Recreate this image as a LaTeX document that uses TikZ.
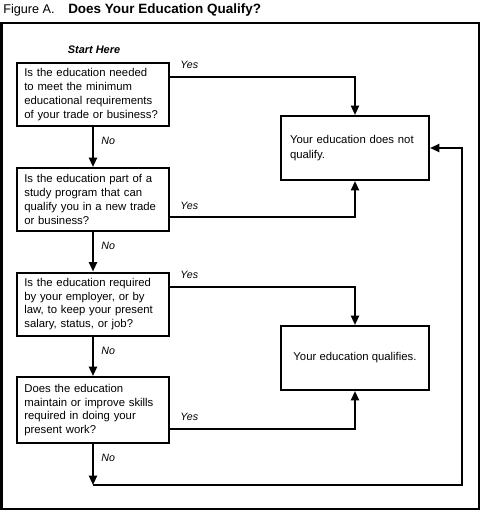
\documentclass[tikz,border=0pt]{standalone}
\usepackage{fontspec}
\setmainfont{Liberation Sans}
\usetikzlibrary{arrows.meta}
\hyphenpenalty=10000
\exhyphenpenalty=10000
\begin{document}
\begin{tikzpicture}[x=0.75pt,y=-0.75pt,
  every node/.style={inner sep=0pt},
  ln/.style={line width=1.5pt},
  arr/.style={ln, -{Triangle[width=6pt,length=7pt]}},
  qbox/.style={draw, ln, minimum width=114pt, minimum height=47.25pt,
    text width=103pt, align=left, font=\fontsize{8.5}{10.4}\selectfont},
  abox/.style={draw, ln, minimum width=111pt, minimum height=48pt,
    font=\fontsize{8.5}{10.6}\selectfont},
  lab/.style={font=\fontsize{8}{9}\selectfont\itshape},
]
\useasboundingbox (0,0) rectangle (483,522);
% frame
\draw[ln] (1.5,22.5) rectangle (478.5,508.5);
% title
\node[anchor=base west, font=\fontsize{9.5}{11}\selectfont] (tA) at (3,13) {Figure A.};
\node[anchor=base west, font=\fontsize{10.1}{11}\selectfont\bfseries] (tB) at (68,13) {Does Your Education Qualify?};
\node[font=\fontsize{8.2}{9}\selectfont\bfseries\itshape] (start) at (94,50) {Start Here};
% boxes
\node[qbox] (q1) at (93,94.5) {Is the education needed\\to meet the minimum\\educational requirements\\of your trade or business?};
\node[qbox] (q2) at (93,199.5) {Is the education part of a\\study program that can\\qualify you in a new trade\\or business?};
\node[qbox] (q3) at (93,304) {Is the education required\\by your employer, or by\\law, to keep your present\\salary, status, or job?};
\node[qbox, minimum height=49.5pt] (q4) at (93,410) {Does the education\\maintain or improve skills\\required in doing your\\present work?};
\node[abox, text width=97.5pt, align=left] (nq) at (355,148) {Your education does not\\qualify.};
\node[abox] (q) at (355,358) {Your education qualifies.};
% No arrows
\draw[arr] (q1) -- (q2) node[lab, at start, anchor=west, xshift=5.5pt, yshift=-10.5pt] {No};
\draw[arr] (q2) -- (q3) node[lab, at start, anchor=west, xshift=5.5pt, yshift=-10.5pt] {No};
\draw[arr] (q3) -- (q4) node[lab, at start, anchor=west, xshift=5.5pt, yshift=-10.5pt] {No};
\coordinate (c1) at (93,485);
\coordinate (c2) at (462,485);
\draw[arr] (q4) -- (c1) node[lab, at start, anchor=west, xshift=5.5pt, yshift=-10.5pt] {No};
\draw[arr] (c1) -- (c2) |- (nq.east);
% Yes arrows
\draw[arr] ([yshift=-11.25pt]q1.north east) -| (nq.north) node[lab, at start, anchor=west, xshift=7pt, yshift=9pt] {Yes};
\draw[arr] ([yshift=11.25pt]q2.south east) -| (nq.south) node[lab, at start, anchor=west, xshift=7pt, yshift=8.5pt] {Yes};
\draw[arr] ([yshift=-11.25pt]q3.north east) -| (q.north) node[lab, at start, anchor=west, xshift=7pt, yshift=9pt] {Yes};
\draw[arr] ([yshift=11.25pt]q4.south east) -| (q.south) node[lab, at start, anchor=west, xshift=7pt, yshift=9pt] {Yes};
\end{tikzpicture}
\end{document}
